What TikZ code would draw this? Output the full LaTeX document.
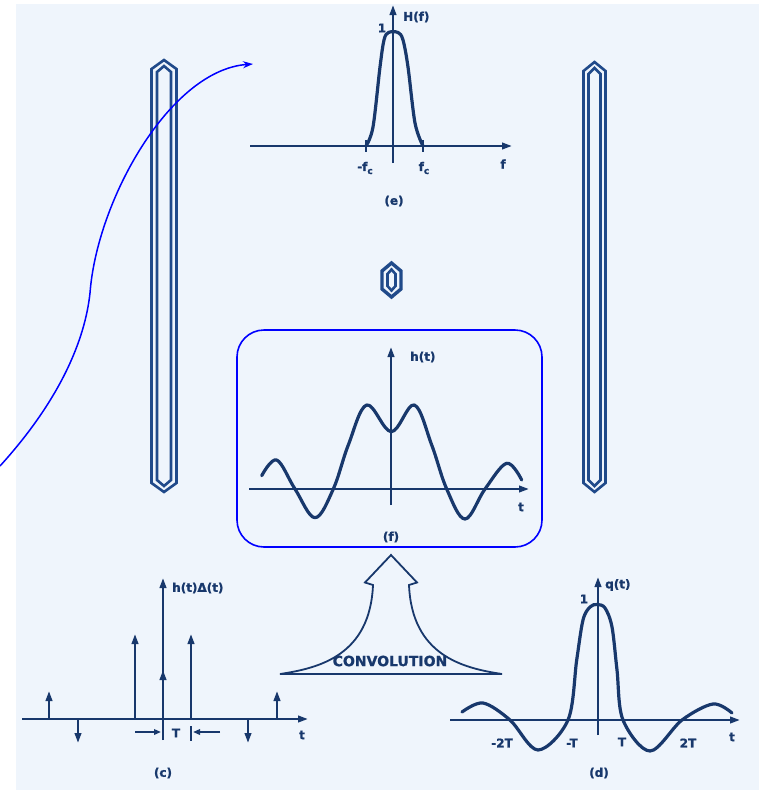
\documentclass[tikz,border=0pt]{standalone}
\usepackage{fontspec}
\setmainfont{DejaVu Sans}
\newfontfamily\labfont[FakeBold=1.2]{DejaVu Sans Bold}
\usetikzlibrary{arrows.meta}
\definecolor{ink}{RGB}{24,56,108}
\definecolor{bg}{RGB}{239,245,252}
\definecolor{barc}{RGB}{32,74,138}
\tikzset{
  axisline/.style={ink, line width=2.3pt, -{Triangle[length=10pt,width=6.5pt]}},
  curveline/.style={ink, line width=3.2pt, line cap=round, line join=round},
  lab/.style={text=ink, font=\labfont\fontsize{12}{13}\selectfont, inner sep=0pt},
  imp/.style={ink, line width=2.3pt, -{Triangle[length=10pt,width=6.5pt]}},
  dimarrow/.style={ink, line width=2pt, -{Triangle[length=7pt,width=5.5pt]}},
  barline/.style={barc, line width=2.6pt, line join=miter},
  note/.style={blue, line width=1.5pt},
}
\newcommand{\subc}{\raisebox{-3pt}{\fontsize{9}{9}\selectfont c}}
\begin{document}
\begin{tikzpicture}[x=1pt,y=-1pt]
\useasboundingbox (0,0) rectangle (759,790);
\fill[bg] (16,4) rectangle (759,790);

% ---------- bars ----------
\draw[barline] (151.5,69) -- (164,60) -- (176.5,69) -- (176.5,483) -- (164,492) -- (151.5,483) -- cycle;
\draw[barline] (157,72) -- (164,66) -- (171,72) -- (171,480) -- (164,486) -- (157,480) -- cycle;
\draw[barline] (583.5,71) -- (594.5,62) -- (605.5,71) -- (605.5,483) -- (594.5,492) -- (583.5,483) -- cycle;
\draw[barline] (588.5,74) -- (594.5,68) -- (600.5,74) -- (600.5,480) -- (594.5,486) -- (588.5,480) -- cycle;
\draw[barc, line width=3.4pt, line join=miter] (382,271) -- (391.5,263) -- (401,271) -- (401,289) -- (391.5,297) -- (382,289) -- cycle;
\draw[barc, line width=2.6pt, line join=miter] (387.5,274) -- (391.5,269.5) -- (395.5,274) -- (395.5,286) -- (391.5,290.5) -- (387.5,286) -- cycle;

% ---------- (e) H(f) ----------
\draw[axisline] (250,146) -- (512,146);
\draw[axisline] (393,163) -- (393,5);
\draw[ink, line width=1.8pt] (366,140) -- (366,152);
\draw[ink, line width=1.8pt] (423,140) -- (423,152);
\draw[curveline] plot[smooth, tension=0.55] coordinates {(366,146) (373,127) (380,67) (384,40) (388.5,32.5) (398,32.5) (403,40) (408,67) (415,123) (423,146)};
\node[lab, anchor=west] (Hf) at (403,17) {H(f)};
\node[lab] (He1) at (382,28) {1};
\node[lab] (mfc) at (365,168) {-f\subc};
\node[lab] (pfc) at (424,168) {f\subc};
\node[lab] (flab) at (503,164) {f};
\node[lab] (elab) at (394,201) {(e)};

% ---------- (f) h(t) ----------
\node[draw=blue, line width=1.6pt, rounded corners=27pt, minimum width=305pt, minimum height=217pt, inner sep=0pt] (fbox) at (389.5,438.5) {};
\draw[axisline] (249,489) -- (529,489);
\draw[axisline] (391,505) -- (391,347);
\draw[curveline] plot[smooth, tension=0.6] coordinates {(261.7,475.7) (276.7,460) (295,489) (315,517.7) (333.3,489) (348.3,445) (366.7,405) (391.3,431.7) (414.3,405) (431.7,445) (446.7,489) (465,519) (485,489) (506.7,463.3) (521.7,480)};
\node[lab, anchor=west] (ht) at (410,357) {h(t)};
\node[lab] (ftl) at (521,507) {t};
\node[lab] (flab2) at (391,537) {(f)};

% ---------- (c) h(t)Delta(t) ----------
\draw[axisline] (22,719) -- (308,719);
\draw[axisline] (163,740) -- (163,578);
\draw[imp] (49,719) -- (49,691);
\draw[imp] (78,719) -- (78,743);
\draw[imp] (135,719) -- (135,634);
\draw[imp] (163,719) -- (163,670);
\draw[imp] (191,719) -- (191,634);
\draw[imp] (248,719) -- (248,743);
\draw[imp] (277,719) -- (277,691);
\draw[dimarrow] (135,732) -- (161,732);
\draw[ink, line width=2pt] (191,726) -- (191,741);
\draw[dimarrow] (220,732) -- (193,732);
\node[lab, anchor=west] (hd) at (172,588) {h(t)Δ(t)};
\node[lab] (cT) at (176,733) {T};
\node[lab] (ct) at (302,735) {t};
\node[lab] (clab) at (163,773) {(c)};

% ---------- convolution arrow ----------
\draw[ink, line width=1.8pt, line join=miter] (280,674) .. controls (320,668) and (370,655) .. (373,585) -- (365,582.5) -- (391,555) -- (417,582.5) -- (409,585) .. controls (412,655) and (462,668) .. (502,674) -- cycle;
\node[text=ink, font=\labfont\fontsize{14}{15}\selectfont, inner sep=0pt] (conv) at (390,661) {CONVOLUTION};

% ---------- (d) q(t) ----------
\draw[axisline] (450,720) -- (740,720);
\draw[axisline] (598,735) -- (598,577);
\draw[curveline] plot[smooth, tension=0.55] coordinates {(462,712) (483,703) (510,720) (538,750) (568,720) (576.7,660) (583,620) (590,607) (597,604.5) (605,608) (612,627) (617,670) (623,720) (650,751) (682,720) (713,704) (732,713)};
\node[lab, anchor=west] (qt) at (605,585) {q(t)};
\node[lab] (d1) at (584,599) {1};
\node[lab] (dm2) at (502,743) {-2T};
\node[lab] (dm1) at (572,743) {-T};
\node[lab] (dp1) at (622,742) {T};
\node[lab] (dp2) at (688,743) {2T};
\node[lab] (dt) at (732,737) {t};
\node[lab] (dlab) at (599,773) {(d)};

% ---------- blue annotation curve ----------
\coordinate (ns) at (0,466);
\coordinate (ne) at (253,64);
\draw[note, -{Stealth[length=10pt,width=7pt]}] (ns) .. controls (60,400) and (85,340) .. (90,293) .. controls (97,200) and (170,70) .. (ne);
\end{tikzpicture}
\end{document}
